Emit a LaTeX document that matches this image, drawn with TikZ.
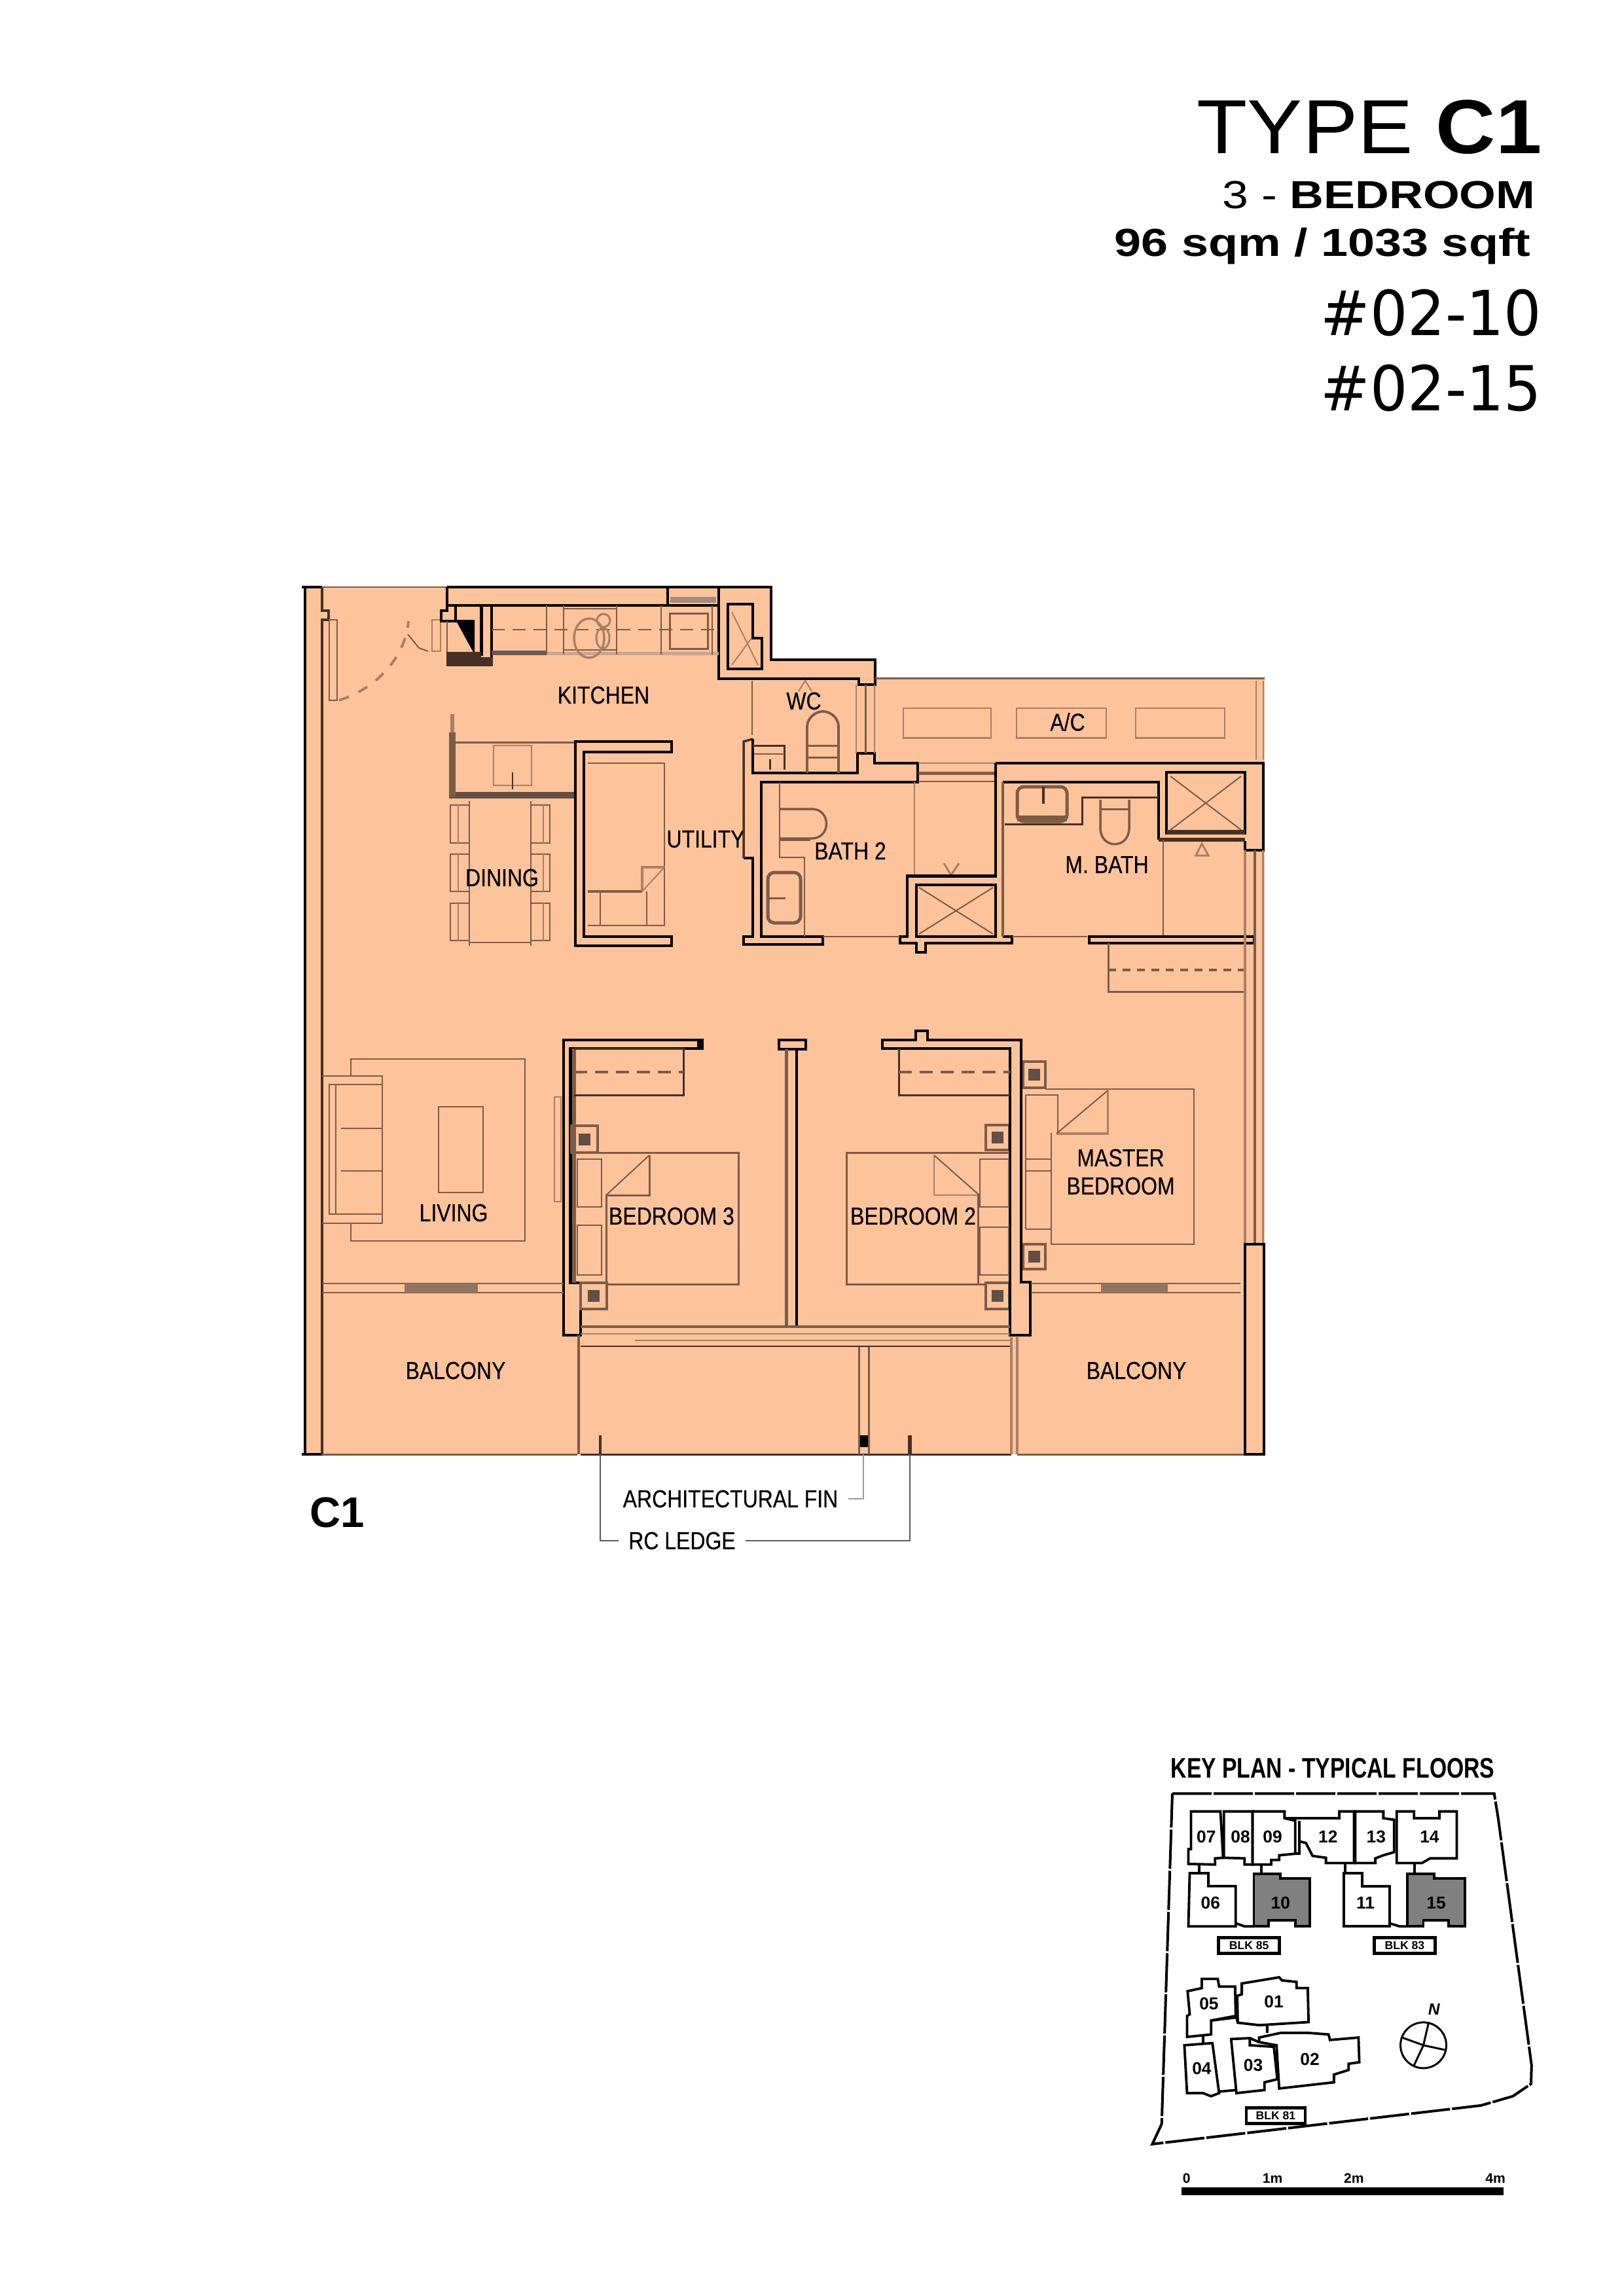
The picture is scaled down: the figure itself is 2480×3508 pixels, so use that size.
\documentclass[tikz,border=0pt]{standalone}
\usepackage{fontspec}
\setmainfont{Liberation Sans}
\newfontfamily\planfont[FakeStretch=0.85,FakeBold=0.3]{Liberation Sans}
\newfontfamily\titleFont[FakeStretch=1.08]{Liberation Sans}
\newfontfamily\wideFont[FakeStretch=1.2]{Liberation Sans}
\newfontfamily\areaFont[FakeStretch=1.235]{Liberation Sans}
\newfontfamily\keyFont[FakeStretch=0.78]{Liberation Sans}
\newfontfamily\unitFont[FakeStretch=0.95]{DejaVu Sans}
\usetikzlibrary{positioning}

\definecolor{planPeach}{RGB}{253,195,155}
\definecolor{planBrown}{RGB}{125,92,70}
\definecolor{planLight}{RGB}{170,128,100}
\definecolor{planDark}{RGB}{70,48,36}

\tikzset{
    wall/.style={line width=0.42mm, black, line join=miter},
    darkline/.style={line width=0.4mm, planDark},
    fitting/.style={line width=0.2mm, planBrown},
    faint/.style={line width=0.2mm, planLight},
    glazing/.style={line width=0.5mm, planBrown},
    hidden/.style={line width=0.35mm, planBrown, dash pattern=on 2mm off 1.2mm},
    room/.style={inner sep=0pt, font=\planfont\fontsize{10.7}{13}\selectfont},
    leaderlabel/.style={room, inner sep=1.5mm},
    leader/.style={line width=0.2mm, black!65},
    flat/.style={line width=0.38mm, black},
    flatno/.style={inner sep=0pt, font=\bfseries\fontsize{7.5}{9}\selectfont},
}

\begin{document}
\begin{tikzpicture}[x=0.1mm, y=-0.1mm]

    %% page size, all coordinates are pixels of the sheet
    \useasboundingbox (0,0) rectangle (2480,3508);

    %% ------
    %% Title block
    %% ----
    \node[anchor=base east, inner sep=0pt, font=\titleFont\fontsize{33.3}{36}\selectfont] (title) at (2356,235) {TYPE \textbf{C1}};
    \node[anchor=base east, inner sep=0pt, font=\wideFont\fontsize{17}{20}\selectfont] (rooms) at (2346,319) {3 - \textbf{BEDROOM}};
    \node[anchor=base east, inner sep=0pt, font=\areaFont\bfseries\fontsize{17}{20}\selectfont] (area) at (2339,392) {96 sqm / 1033 sqft};
    \node[anchor=base east, inner sep=0pt, font=\unitFont\fontsize{27}{30}\selectfont] (unita) at (2356,513) {\#02-10};
    \node[anchor=base east, inner sep=0pt, font=\unitFont\fontsize{27}{30}\selectfont] (unitb) at (2356,628) {\#02-15};

    % floor
    \fill[planPeach] (466,897) -- (1178,897) -- (1178,1008) -- (1337,1008) -- (1337,1036) -- (1932,1036)
        -- (1932,2222) -- (466,2222) -- cycle;

    % left wall and top edge
    \draw[wall] (461,897) -- (492,897);
    \draw[wall] (466,897) -- (466,2222) -- (461,2222) -- (492,2222);
    \draw[darkline] (492,897) -- (492,933) -- (502,933) -- (502,947) -- (492,947) -- (492,2222);
    \draw[fitting] (492,897) -- (683,897);
    \draw[glazing, line width=0.3mm] (492,2222) -- (882,2222);
    \draw[darkline, line width=0.3mm] (887,2222) -- (1545,2222);
    \draw[glazing, line width=0.3mm] (1554,2222) -- (1932,2222);

    % entrance door
    \draw[fitting] (503,947) rectangle (515,1070);
    \draw[faint, line width=0.4mm, dash pattern=on 1.6mm off 1.6mm] (518,1070) .. controls (580,1050) and (620,1000) .. (624,949);
    \draw[faint] (660,995) -- (660,947) -- (673,947) -- (673,995) -- cycle;
    \draw[fitting] (623,969) -- (640,990) -- (654,995);

    % kitchen top wall and shaft
    \draw[wall] (683,897) -- (1178,897) -- (1178,1008) -- (1337,1008) -- (1337,1046) -- (1312,1046) -- (1312,1037) -- (1098,1037) -- (1098,897);
    \draw[wall] (683,925) -- (1098,925);
    \draw[wall] (1020,897) -- (1020,925);
    \fill[planBrown!70] (1024,912) rectangle (1094,921);
    \draw[wall] (1112,923) -- (1150,923) -- (1150,975) -- (1164,975) -- (1164,1022) -- (1112,1022) -- cycle;
    \draw[faint] (1118,935) -- (1158,1016) (1118,1016) -- (1148,975);

    % kitchen column
    \draw[wall] (683,897) -- (683,933) -- (674,933) -- (674,949) -- (696,949) -- (696,925);
    \fill[black] (696,947) -- (725,947) -- (725,1000) -- cycle;
    \draw[wall] (735.5,925) -- (735.5,1002) (751,925) -- (751,1008);
    \draw[fitting] (683,949) -- (683,1008);
    \fill[planDark] (682,1004) rectangle (753,1018);
    \fill[planDark] (682,996) rectangle (735,1004);

    % kitchen counter
    \draw[hidden, line width=0.25mm] (751,962) -- (1098,962);
    \fill[planDark!80] (751,994) rectangle (835,1001);
    \fill[planLight!70] (835,996) rectangle (1098,1001);
    \draw[fitting] (835,925) -- (835,1000) (861,925) -- (861,1000) (942,925) -- (942,1000) (1010,925) -- (1010,1000) (1088,925) -- (1088,1000);
    \draw[fitting] (861,930) -- (942,930) (861,993) -- (942,993);
    \draw[faint, line width=0.35mm] (900,975) ellipse (2.3mm and 3mm);
    \draw[faint, line width=0.3mm] (921,975) ellipse (1mm and 1.6mm) (922,948) ellipse (1mm and 1.0mm);
    \draw[fitting, line width=0.3mm] (1023,937) rectangle (1081,991);

    \node[room] (kitchen) at (922,1062) {KITCHEN};

    % dining island
    \draw[fitting, line width=0.3mm] (691,1134) -- (879,1134);
    \fill[planDark!85] (686,1210) rectangle (879,1220);
    \fill[planBrown] (686,1119) rectangle (696,1218);
    \draw[faint, line width=0.6mm] (691,1091) -- (691,1119);
    \draw[faint] (754,1139) rectangle (812,1200);
    \draw[darkline, line width=0.25mm] (783,1180) -- (783,1206);

    % dining set
    \draw[fitting] (717,1224) -- (717,1445) (811,1224) -- (811,1445) (717,1440) -- (811,1440);
    \foreach \chairtop/\chairbot in {1230/1288, 1305/1362, 1380/1437} {
        \draw[fitting] (717,\chairtop) -- (688,\chairtop) -- (688,\chairbot) -- (717,\chairbot);
        \draw[faint] (700,\chairtop) -- (700,\chairbot);
        \draw[fitting] (811,\chairtop) -- (840,\chairtop) -- (840,\chairbot) -- (811,\chairbot);
        \draw[faint] (830,\chairtop) -- (830,\chairbot);
    }
    \node[room] (dining) at (767,1341) {DINING};

    % utility
    \draw[wall] (1026,1133) -- (879,1133) -- (879,1445) -- (1026,1445) -- (1026,1431) -- (892,1431) -- (892,1149) -- (1026,1149) -- cycle;
    \draw[fitting] (898,1166) -- (1015,1166) -- (1015,1414) -- (898,1414);
    \draw[glazing, line width=0.4mm] (898,1362) -- (981,1362);
    \draw[fitting] (917,1362) -- (917,1414) (988,1362) -- (988,1414);
    \draw[faint, line width=0.4mm] (981,1362) -- (981,1325) -- (1015,1325);
    \draw[faint] (981,1362) -- (1015,1325);
    \node[room] (utility) at (1078,1282) {UTILITY};

    % wc
    \draw[fitting] (1149,1040) -- (1149,1123);
    \draw[faint] (1220,1056) -- (1230,1040) -- (1240,1056);
    \draw[wall] (1136,1440) -- (1136,1431) -- (1150,1431) -- (1150,1311) -- (1136,1311);
    \draw[darkline, line width=0.35mm] (1136,1311) -- (1136,1133) -- (1150,1129);
    \draw[wall] (1150,1129) -- (1150,1181) -- (1310,1181) -- (1310,1151) -- (1336,1151) -- (1336,1166) -- (1402,1166) -- (1402,1195) -- (1163,1195) -- (1163,1431) -- (1257,1431) -- (1257,1443) -- (1136,1443) -- (1136,1431);
    \draw[faint] (1308,1046) -- (1308,1151);
    \draw[fitting, line width=0.3mm] (1322,1046) -- (1322,1151);
    \draw[faint] (1336,1046) -- (1336,1151);
    \draw[darkline, line width=0.3mm] (1150,1139) -- (1198,1139) -- (1198,1176);
    \draw[fitting] (1152,1152) -- (1198,1152);
    \draw[darkline, line width=0.3mm] (1176,1160) -- (1176,1176);
    \draw[glazing, line width=0.38mm] (1233,1181) -- (1233,1110) .. controls (1233,1098) and (1245,1087) .. (1257,1087) .. controls (1270,1087) and (1281,1098) .. (1281,1110) -- (1281,1181);
    \draw[glazing, line width=0.3mm] (1233,1139) -- (1281,1139) (1233,1157) -- (1281,1157);
    \node[room] (wc) at (1228,1071) {WC};

    % a/c ledge
    \draw[glazing, line width=0.3mm] (1337,1036) -- (1932,1036);
    \draw[faint, line width=0.25mm] (1919,1040) -- (1919,1161) (1930,1040) -- (1930,1161);
    \foreach \acleft/\acright in {1380/1514, 1553/1690, 1735/1871} {
        \draw[faint] (\acleft,1129) -- (\acleft,1082) -- (\acright,1082) -- (\acright,1129);
        \draw[faint, line width=0.3mm] (\acleft,1127) -- (\acright,1127);
    }
    \node[room] (ac) at (1631,1103) {A/C};

    % bath 2
    \draw[faint] (1403,1166) -- (1521,1166);
    \draw[glazing] (1403,1181) -- (1521,1181);
    \draw[fitting] (1403,1194) -- (1521,1194);
    \draw[fitting] (1191,1195) -- (1191,1310) -- (1229,1310) -- (1229,1431);
    \draw[glazing, line width=0.35mm] (1191,1236) -- (1240,1236) .. controls (1270,1236) and (1270,1281) .. (1240,1281) -- (1191,1281);
    \draw[fitting, line width=0.3mm] (1191,1283) -- (1238,1283);
    \draw[glazing, rounded corners=1mm] (1173,1333) rectangle (1223,1410);
    \draw[glazing, line width=0.3mm] (1173,1372) -- (1200,1372);
    \draw[faint] (1397,1195) -- (1397,1337);
    \draw[faint, line width=0.3mm] (1442,1319) -- (1453,1337) -- (1465,1319);
    \node[room] (bath) at (1299,1300) {BATH 2};

    % bath 2 shower
    \draw[wall] (1521,1166) -- (1521,1338.5) -- (1386,1338.5) -- (1386,1431) -- (1375,1431) -- (1375,1441) -- (1400,1441) -- (1400,1455) -- (1414,1455) -- (1414,1441) -- (1546,1441) -- (1546,1431) -- (1532,1431);
    \draw[wall] (1400,1352) rectangle (1521,1431);
    \draw[fitting] (1404,1356) -- (1517,1427) (1404,1427) -- (1517,1356);
    \draw[fitting] (1257,1431) -- (1375,1431);
    \draw[fitting] (1546,1431) -- (1661,1431);

    % master bath
    \draw[wall] (1521,1166) -- (1930,1166) -- (1930,1299) -- (1902,1299) -- (1902,1285);
    \draw[wall] (1532,1195) -- (1770,1195) -- (1770,1283);
    \draw[glazing, line width=0.42mm] (1532,1195) -- (1532,1431);
    \draw[wall, line width=0.6mm, planDark] (1770,1283) -- (1902,1283);
    \draw[wall] (1782,1180) rectangle (1902,1273);
    \fill[planDark] (1782,1268) rectangle (1902,1275);
    \draw[fitting] (1788,1186) -- (1896,1268) (1788,1268) -- (1896,1186);
    \draw[darkline, line width=0.3mm] (1535,1259.5) -- (1653,1259.5) -- (1653,1218) -- (1770,1218);
    \draw[glazing, rounded corners=1mm] (1554,1202) rectangle (1630,1255);
    \fill[planBrown] (1554,1246) rectangle (1630,1255);
    \draw[darkline] (1594,1202) -- (1594,1228);
    \draw[glazing, line width=0.35mm] (1681,1222) -- (1681,1265) .. controls (1681,1298) and (1725,1298) .. (1725,1265) -- (1725,1222);
    \draw[fitting, line width=0.3mm] (1681,1236) -- (1725,1236);
    \draw[fitting] (1777,1283) -- (1777,1431);
    \draw[faint, line width=0.3mm] (1827,1307) -- (1836,1289) -- (1846,1307) -- cycle;
    \node[room] (mbath) at (1691,1321) {M. BATH};

    % wall under m. bath and wardrobe
    \draw[wall] (1664,1431) rectangle (1916,1441);
    \draw[fitting, line width=0.3mm] (1693,1441) -- (1693,1515.5) -- (1903,1515.5);
    \draw[hidden, dash pattern=on 1.2mm off 1mm] (1693,1482) -- (1903,1482);

    % east glazing
    \draw[faint, line width=0.4mm] (1902,1299) -- (1902,1901);
    \draw[glazing, line width=0.4mm] (1917,1299) -- (1917,1901);
    \draw[faint, line width=0.3mm] (1929,1299) -- (1929,1901);
    \draw[wall] (1902,1901) rectangle (1931,2222);

    % bedroom 3
    \draw[wall] (1073,1589) -- (861,1589) -- (861,2040) -- (887,2040) -- (887,1960) -- (871.5,1960) -- (871.5,1602) -- (1073,1602) -- cycle;
    \draw[wall, line width=0.7mm] (1068,1589) -- (1068,1602);
    \draw[glazing, line width=0.6mm] (877,1602) -- (877,1960);
    \draw[darkline, line width=0.3mm] (877,1602) -- (1044,1602) -- (1044,1673) -- (877,1673);
    \draw[hidden] (877,1638) -- (1044,1638);
    \draw[faint] (847,1676) rectangle (857,1836);
    \draw[fitting, line width=0.3mm] (874,1761.5) -- (1128,1761.5) -- (1128,1962) -- (926,1962);
    \draw[fitting, line width=0.3mm] (926,2000) -- (926,1826) -- (992,1826) -- (992,1765);
    \draw[fitting] (926,1826) -- (992,1765);
    \draw[fitting] (882,1771) rectangle (918.5,1844) (882,1872) rectangle (918.5,1948);
    \node[room] (bedthree) at (1026,1858) {BEDROOM 3};

    % columns by the bedrooms
    \foreach \colx/\coly/\colw/\colh in {873/1720/40/41, 887/1960/40/40, 1506/1719/36/38, 1506/1960/36/40, 1563/1622/34/40, 1563/1901/34/38} {
        \draw[fitting, line width=0.35mm] (\colx,\coly) rectangle ++(\colw,\colh);
        \fill[planDark!85] (\colx+\colw/2-9,\coly+\colh/2-9) rectangle ++(18,18);
    }

    % partition between the bedrooms
    \draw[wall] (1190,1589) rectangle (1231,1603);
    \draw[wall] (1217,1603) -- (1217,2027);
    \draw[glazing] (1201,1603) -- (1201,2027);

    % bedroom 2
    \draw[wall] (1348,1589) -- (1399,1589) -- (1399,1575) -- (1417,1575) -- (1417,1589) -- (1560,1589) -- (1560,1959) -- (1574,1959) -- (1574,2040) -- (1543,2040) -- (1543,1602) -- (1348,1602) -- cycle;
    \draw[darkline, line width=0.3mm] (1373,1602) -- (1373,1673) -- (1543,1673);
    \draw[hidden] (1373,1638) -- (1543,1638);
    \draw[fitting, line width=0.3mm] (1542,1761.5) -- (1293,1761.5) -- (1293,1962) -- (1506,1962);
    \draw[faint] (1427,1765) -- (1427,1826) -- (1496,1826);
    \draw[fitting] (1427,1765) -- (1496,1826);
    \draw[fitting, line width=0.3mm] (1494,1826) -- (1494,1962);
    \draw[fitting] (1497,1771) rectangle (1541,1844) (1497,1875) rectangle (1541,1948);
    \node[room] (bedtwo) at (1395,1858) {BEDROOM 2};

    % master bedroom
    \draw[fitting] (1597,1664) -- (1824,1664) -- (1824,1901) -- (1606,1901) -- (1606,1731);
    \draw[fitting] (1567,1673) -- (1616,1673) -- (1616,1732) (1567,1771) -- (1606,1771) (1567,1789) -- (1606,1789) (1567,1878) -- (1606,1878) (1567,1673) -- (1567,1878);
    \draw[faint, line width=0.35mm] (1614,1732) -- (1692.5,1732) -- (1692.5,1666);
    \draw[fitting] (1614,1732) -- (1692.5,1666);
    \node[room] (mastera) at (1712,1769) {MASTER};
    \node[room] (masterb) at (1712,1812) {BEDROOM};

    % living
    \draw[fitting] (536,1644) -- (536,1618) -- (802,1618) -- (802,1896) -- (536,1896) -- (536,1869);
    \draw[fitting] (492,1644) -- (584,1644) -- (584,1869) -- (492,1869);
    \draw[fitting] (503,1657) rectangle (584,1854.5);
    \draw[fitting] (513,1657) -- (513,1854.5);
    \draw[fitting] (521,1723.6) -- (584,1723.6) (521,1789) -- (584,1789);
    \draw[fitting] (670,1691) rectangle (738,1821.5);
    \node[room] (living) at (693,1853) {LIVING};

    % balcony doors
    \draw[fitting] (492,1961) -- (861,1961) (492,1975) -- (861,1975);
    \fill[planBrown!85] (618,1961) rectangle (730,1975);
    \draw[fitting] (1575,1961) -- (1895,1961) (1575,1975) -- (1895,1975);
    \fill[planBrown!85] (1682,1961) rectangle (1784,1975);

    % bedroom glazing and balcony dividers
    \draw[glazing, line width=0.35mm] (887,2027) -- (1543,2027);
    \draw[faint] (887,2038) -- (1543,2038) (970,2048) -- (1543,2048);
    \draw[darkline, line width=0.25mm] (887,2057) -- (1543,2057);
    \draw[glazing, line width=0.4mm] (884,2040) -- (884,2222);
    \draw[faint, line width=0.35mm] (1545,2043) -- (1545,2222) (1554,2043) -- (1554,2222);
    \node[room] (balconya) at (696,2094) {BALCONY};
    \node[room] (balconyb) at (1736,2094) {BALCONY};

    % architectural fin and ledge
    \draw[fitting, line width=0.3mm] (1312,2058) -- (1312,2222) (1327,2058) -- (1327,2222);
    \fill[black] (1314,2193) rectangle (1326,2211);
    \fill[planDark] (915,2193) rectangle (919,2222);
    \fill[planDark] (1387,2193) rectangle (1393,2222);
    \coordinate (finfoot) at (1319,2222);
    \coordinate (ledgea) at (917,2222);
    \coordinate (ledgeb) at (1390,2222);
    \node[leaderlabel] (finlabel) at (1116,2290) {ARCHITECTURAL FIN};
    \node[leaderlabel] (ledgelabel) at (1042,2354) {RC LEDGE};
    \draw[leader, black!40] (finlabel.east) -| (finfoot);
    \draw[leader] (ledgelabel.west) -| (ledgea);
    \draw[leader] (ledgelabel.east) -| (ledgeb);

    \node[inner sep=0pt, font=\bfseries\fontsize{18.6}{20}\selectfont] (typemark) at (515,2311) {C1};

    %% ------
    %% Key plan, drawn in its own small grid
    %% ----
    \node[inner sep=0pt, font=\keyFont\bfseries\fontsize{12.3}{14}\selectfont] (keytitle) at (2036,2702) {KEY PLAN - TYPICAL FLOORS};

    \begin{scope}[shift={(1740,2660)}, x=0.0408mm, y=-0.0472mm]

        % site boundary
        \draw[line width=0.4mm, dash pattern=on 6mm off 0.3mm] (125,170) -- (1330,170) -- (1345,250) -- (1470,1050) -- (1468,1110) -- (1400,1150) -- (1280,1180) -- (50,1305) -- (85,1240) -- cycle;

        % upper blocks
        \draw[flat] (195,228) -- (305,228) -- (315,378) -- (285,380) -- (285,400) -- (185,398) -- (185,350) -- (195,350) -- cycle;
        \draw[flat] (318,228) -- (425,228) -- (425,400) -- (395,400) -- (395,380) -- (318,378) -- cycle;
        \draw[flat] (425,228) -- (545,228) -- (545,250) -- (585,258) -- (585,365) -- (525,370) -- (525,385) -- (495,385) -- (495,400) -- (425,400) -- cycle;
        \draw[flat] (545,250) -- (750,250) -- (750,228) -- (805,228) -- (805,395) -- (700,395) -- (700,378) -- (650,372) -- (625,330) -- (600,325);
        \draw[flat] (600,258) -- (600,365) -- (585,365);
        \draw[flat] (810,228) -- (915,228) -- (915,250) -- (955,255) -- (955,360) -- (915,370) -- (885,380) -- (885,395) -- (810,395) -- cycle;
        \draw[flat] (965,228) -- (1030,228) -- (1030,250) -- (1125,250) -- (1125,228) -- (1190,228) -- (1190,380) -- (1090,380) -- (1060,395) -- (965,395) -- cycle;
        \draw[flat] (190,428) -- (260,428) -- (260,470) -- (362,470) -- (362,600) -- (185,600) -- cycle;
        \draw[flat, fill=black!50] (430,430) -- (530,430) -- (530,445) -- (640,445) -- (640,600) -- (585,600) -- (585,580) -- (485,580) -- (485,600) -- (430,600) -- cycle;
        \draw[flat] (768,428) -- (835,428) -- (835,470) -- (938,470) -- (938,600) -- (768,600) -- cycle;
        \draw[flat, fill=black!50] (1005,430) -- (1105,430) -- (1105,445) -- (1220,445) -- (1220,600) -- (1160,600) -- (1160,580) -- (1065,580) -- (1065,600) -- (1005,600) -- cycle;
        \draw[flat] (225,400) -- (225,428) (458,400) -- (458,430) (772,395) -- (772,428) (1032,395) -- (1032,430);
        \draw[flat] (362,590) -- (395,600) -- (430,600) (938,590) -- (975,600) -- (1005,600);

        % lower block
        \draw[flat] (182,810) -- (235,800) -- (235,770) -- (295,770) -- (300,795) -- (360,795) -- (362,890) -- (270,905) -- (270,950) -- (180,958) -- (180,890) -- (190,885) -- cycle;
        \draw[flat] (385,785) -- (525,765) -- (535,775) -- (590,780) -- (590,800) -- (632,800) -- (635,910) -- (450,920) -- (370,912) -- (368,825) -- (385,820) -- cycle;
        \draw[flat] (450,960) -- (530,945) -- (635,945) -- (710,950) -- (715,968) -- (822,960) -- (825,1040) -- (785,1045) -- (785,1065) -- (730,1080) -- (730,1105) -- (525,1125) -- (515,985) -- (450,975) -- cycle;
        \draw[flat] (345,965) -- (415,962) -- (415,985) -- (505,990) -- (518,1095) -- (470,1105) -- (470,1130) -- (365,1140) -- cycle;
        \draw[flat] (170,985) -- (275,978) -- (300,1140) -- (270,1150) -- (240,1140) -- (180,1140) -- cycle;
        \draw[flat] (270,905) -- (365,895) -- (370,912) (480,920) -- (480,945) (240,955) -- (240,980) (300,1135) -- (365,1130) (415,962) -- (450,975);

        % unit numbers
        \foreach \unitno/\unitx/\unity in {07/252/310, 08/380/310, 09/500/310, 12/708/310, 13/888/310, 14/1088/310, 06/268/525, 10/530/525, 11/848/525, 15/1113/525, 05/262/850, 01/505/845, 02/640/1030, 03/428/1050, 04/235/1060} {
            \node[flatno] (unit\unitno) at (\unitx,\unity) {\unitno};
        }

        % block tags
        \node[draw, line width=0.45mm, inner sep=0pt, minimum width=9.3mm, minimum height=2.4mm, font=\bfseries\fontsize{5}{6}\selectfont] (blka) at (412,662) {BLK 85};
        \node[draw, line width=0.45mm, inner sep=0pt, minimum width=9.3mm, minimum height=2.4mm, font=\bfseries\fontsize{5}{6}\selectfont] (blkb) at (995,662) {BLK 83};
        \node[draw, line width=0.45mm, inner sep=0pt, minimum width=9.0mm, minimum height=2.4mm, font=\bfseries\fontsize{5}{6}\selectfont] (blkc) at (512,1213) {BLK 81};

        % north point
        \coordinate (northc) at (1065,985);
        \draw[line width=0.3mm] (northc) circle (3.5mm);
        \draw[line width=0.3mm] (northc) -- (1085,910) (northc) -- (985,960) (northc) -- (1145,1000) (northc) -- (1030,1050);
        \node[inner sep=0pt, font=\bfseries\itshape\fontsize{7}{8}\selectfont] (north) at (1105,868) {N};

        % scale bar
        \fill[black] (160,1445) rectangle (1365,1470);
        \node[inner sep=0pt, font=\bfseries\fontsize{6}{7}\selectfont] (scalea) at (178,1415) {0};
        \node[inner sep=0pt, font=\bfseries\fontsize{6}{7}\selectfont] (scaleb) at (500,1415) {1m};
        \node[inner sep=0pt, font=\bfseries\fontsize{6}{7}\selectfont] (scalec) at (805,1415) {2m};
        \node[inner sep=0pt, font=\bfseries\fontsize{6}{7}\selectfont] (scaled) at (1335,1415) {4m};

    \end{scope}

\end{tikzpicture}
\end{document}
